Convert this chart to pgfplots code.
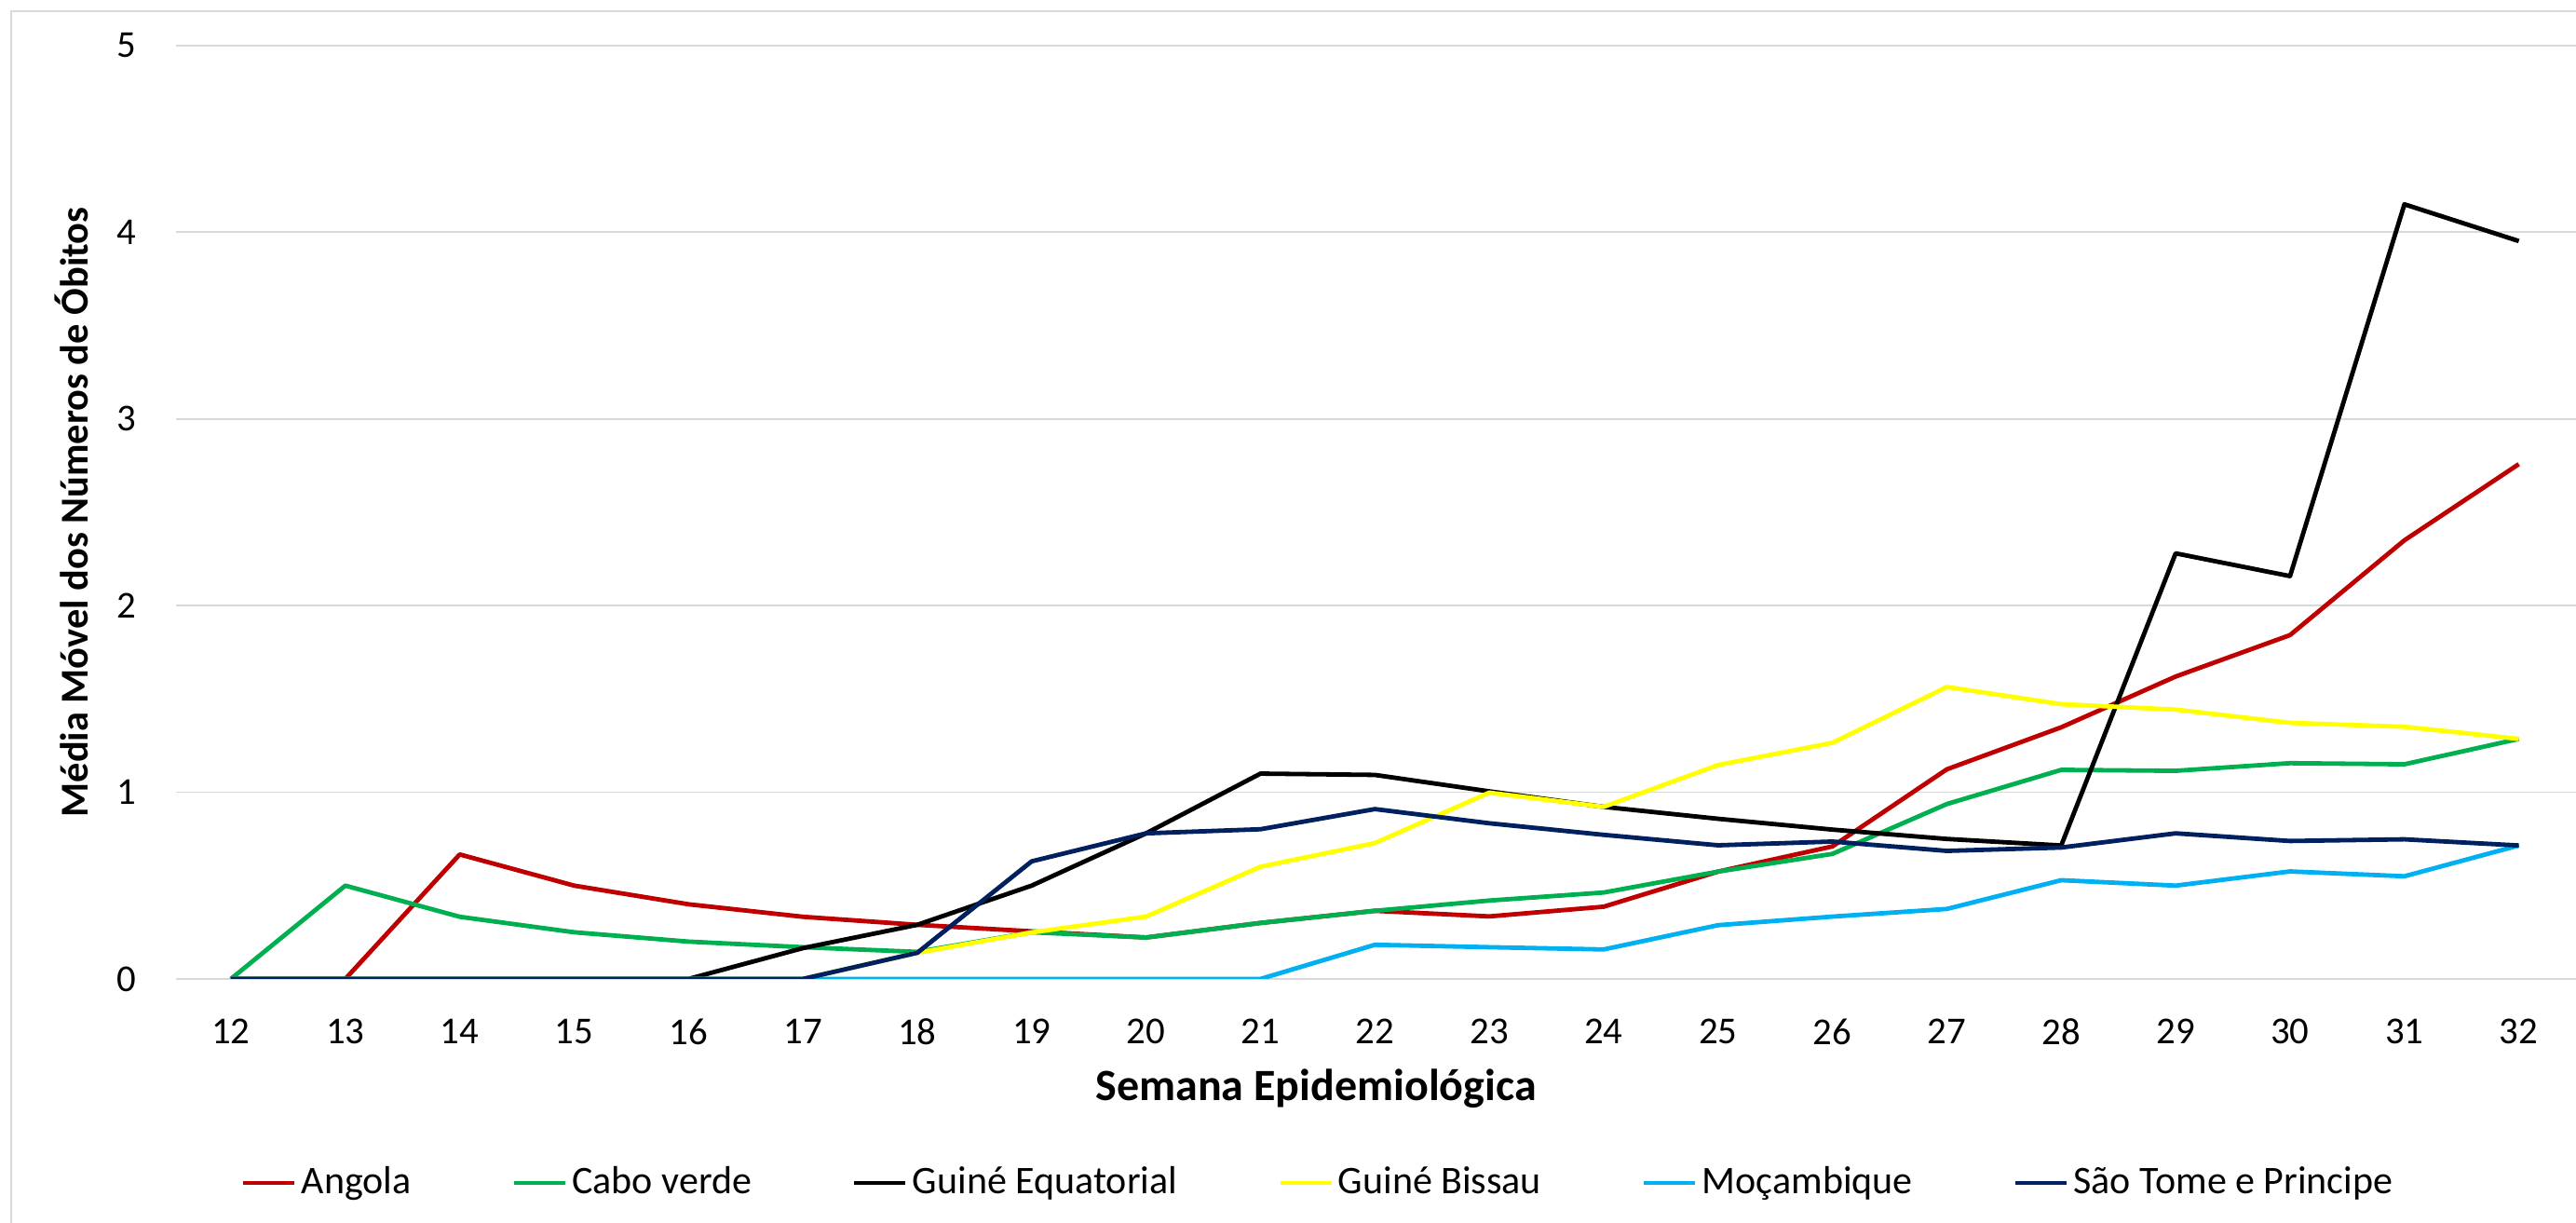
\documentclass[border=0pt]{standalone}
\usepackage{pgfplots}
\pgfplotsset{compat=1.18}
\usepackage{fontspec}
\setmainfont{Carlito}
\definecolor{cAng}{HTML}{C00000}
\definecolor{cCab}{HTML}{00B050}
\definecolor{cGEq}{HTML}{000000}
\definecolor{cGBi}{HTML}{FFFF00}
\definecolor{cMoc}{HTML}{00B0F0}
\definecolor{cSTP}{HTML}{002060}
\definecolor{gridc}{HTML}{D9D9D9}
\begin{document}
\begin{tikzpicture}[x=1pt,y=1pt]
\begin{axis}[
  at={(47.25pt,65.5pt)}, anchor=south west,
  width=644.25pt, height=250.5pt, scale only axis,
  xmin=11.52, xmax=32.5, ymin=0, ymax=5,
  xtick={12,13,...,32}, ytick={0,1,...,5},
  axis line style={draw=none},
  major tick length=0pt,
  ymajorgrids, grid style={color=gridc, line width=0.45pt},
  /pgf/number format/assume math mode=true,
  tick label style={font=\fontsize{10.2}{12}\selectfont, inner sep=0pt},
  xticklabel style={anchor=north, yshift=-10.5pt},
  yticklabel style={anchor=east, xshift=-10.5pt},
  xlabel={Semana Epidemiológica},
  ylabel={Média Móvel dos Números de Óbitos},
  xlabel style={font=\bfseries\fontsize{12}{14}\selectfont, at={(axis description cs:0.475,-0.0958)}, anchor=north, inner sep=0pt},
  ylabel style={font=\bfseries\fontsize{10.6}{12}\selectfont, at={(axis description cs:-0.0435,0.5)}, anchor=center, inner sep=0pt},
  legend style={at={(axis description cs:0.4754,-0.2186)}, anchor=center,
    draw=none, fill=none, inner sep=0pt, legend columns=6,
    font=\fontsize{10.5}{12}\selectfont,
    nodes={inner sep=0pt},
    /tikz/every even column/.append style={column sep=27pt},
    /tikz/every odd column/.append style={column sep=1.25pt}},
  legend cell align=left,
  legend image code/.code={\draw[#1] (0pt,0pt) -- (13.75pt,0pt);},
  every axis plot/.append style={line width=1.2pt, line join=round, mark=none},
]
\addplot[color=cAng] coordinates {(12,0) (13,0) (14,0.667) (15,0.5) (16,0.4) (17,0.333) (18,0.29) (19,0.255) (20,0.222) (21,0.30) (22,0.365) (23,0.335) (24,0.387) (25,0.575) (26,0.71) (27,1.123) (28,1.348) (29,1.62) (30,1.842) (31,2.35) (32,2.758)};
\addlegendentry{Angola}
\addplot[color=cCab] coordinates {(12,0) (13,0.5) (14,0.333) (15,0.25) (16,0.2) (17,0.17) (18,0.145) (19,0.25) (20,0.222) (21,0.30) (22,0.365) (23,0.42) (24,0.463) (25,0.575) (26,0.67) (27,0.937) (28,1.12) (29,1.115) (30,1.156) (31,1.15) (32,1.286)};
\addlegendentry{Cabo verde}
\addplot[color=cGEq] coordinates {(12,0) (13,0) (14,0) (15,0) (16,0) (17,0.165) (18,0.29) (19,0.5) (20,0.78) (21,1.10) (22,1.093) (23,1.005) (24,0.922) (25,0.858) (26,0.80) (27,0.75) (28,0.715) (29,2.28) (30,2.158) (31,4.15) (32,3.953)};
\addlegendentry{Guiné Equatorial}
\addplot[color=cGBi] coordinates {(12,0) (13,0) (14,0) (15,0) (16,0) (17,0) (18,0.14) (19,0.249) (20,0.334) (21,0.601) (22,0.728) (23,0.998) (24,0.922) (25,1.146) (26,1.265) (27,1.564) (28,1.472) (29,1.443) (30,1.372) (31,1.351) (32,1.286)};
\addlegendentry{Guiné Bissau}
\addplot[color=cMoc] coordinates {(12,0) (13,0) (14,0) (15,0) (16,0) (17,0) (18,0) (19,0) (20,0) (21,0) (22,0.183) (23,0.17) (24,0.158) (25,0.288) (26,0.334) (27,0.375) (28,0.529) (29,0.50) (30,0.576) (31,0.55) (32,0.715)};
\addlegendentry{Moçambique}
\addplot[color=cSTP] coordinates {(12,0) (13,0) (14,0) (15,0) (16,0) (17,0) (18,0.14) (19,0.63) (20,0.78) (21,0.802) (22,0.91) (23,0.834) (24,0.772) (25,0.716) (26,0.736) (27,0.686) (28,0.704) (29,0.78) (30,0.739) (31,0.748) (32,0.715)};
\addlegendentry{São Tome e Principe}
\end{axis}
\draw[gridc, line width=0.5pt] (3pt,-5pt) -- (3pt,325.25pt) -- (700pt,325.25pt);
\pgfresetboundingbox
\path[use as bounding box] (0pt,0pt) rectangle (691.5pt,328.25pt);
\end{tikzpicture}
\end{document}
